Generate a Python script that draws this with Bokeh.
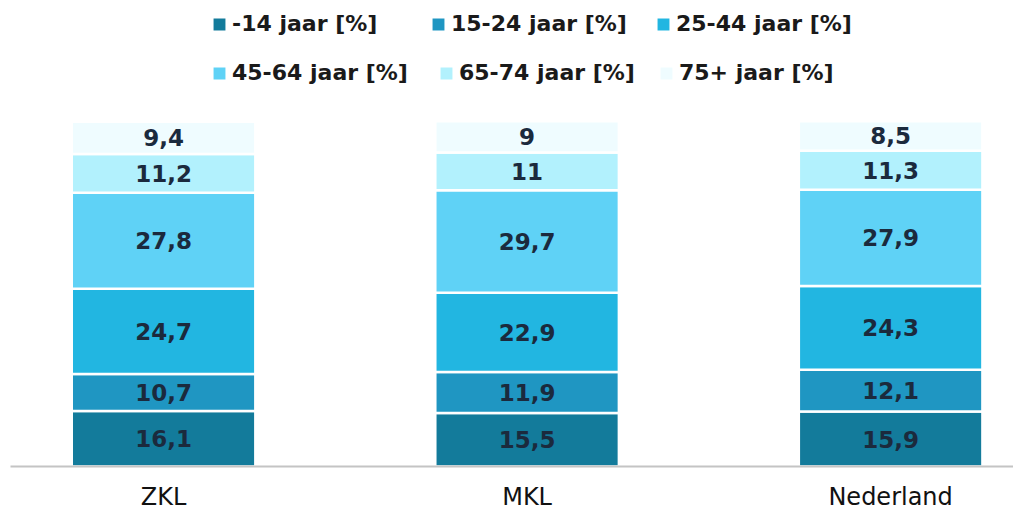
import numpy as np
from bokeh.plotting import figure
from bokeh.models import Range1d, FixedTicker, Legend, LegendItem, ColumnDataSource
from bokeh.core.properties import value
from bokeh.embed import file_html
from bokeh.resources import INLINE

# ---- data ----
regions = ["ZKL", "MKL", "Nederland"]
age_groups = ["-14 jaar [%]", "15-24 jaar [%]", "25-44 jaar [%]",
              "45-64 jaar [%]", "65-74 jaar [%]", "75+ jaar [%]"]
v_0_14 = [16.1, 15.5, 15.9]
v_15_24 = [10.7, 11.9, 12.1]
v_25_44 = [24.7, 22.9, 24.3]
v_45_64 = [27.8, 29.7, 27.9]
v_65_74 = [11.2, 11.0, 11.3]
v_75p = [9.4, 9.0, 8.5]
series = [v_0_14, v_15_24, v_25_44, v_45_64, v_65_74, v_75p]
colors = ["#137b9b", "#1f96c2", "#22b6e1", "#5fd2f6", "#b2f1fd", "#effcff"]

xpos = np.arange(len(regions))
data = {"x": xpos}
keys = []
for i, s in enumerate(series):
    k = f"s{i}"
    keys.append(k)
    data[k] = s
src = ColumnDataSource(data)

p = figure(width=1013, height=514, output_backend="svg", toolbar_location=None,
           x_range=Range1d(-0.421, 2.338), y_range=Range1d(0, 135),
           min_border_left=10, min_border_right=0, min_border_top=0, min_border_bottom=48)
p.outline_line_color = None
p.background_fill_color = "white"
p.border_fill_color = "white"
p.xgrid.visible = False
p.ygrid.visible = False
p.yaxis.visible = False

renderers = p.vbar_stack(keys, x="x", width=0.505, source=src, color=colors,
                         line_color="white", line_width=2.5)

# segment labels
arr = np.array(series)
cum = np.cumsum(arr, axis=0)
mids = cum - arr / 2
lx, ly, lt = [], [], []
for i in range(arr.shape[0]):
    for j in range(arr.shape[1]):
        lx.append(xpos[j])
        ly.append(mids[i, j])
        lt.append(f"{arr[i, j]:g}".replace(".", ","))
p.text(x=lx, y=ly, text=lt, text_align="center", text_baseline="middle",
       text_font=value("DejaVu Sans"), text_font_style="bold",
       text_font_size="23px", text_color="#1b2a3d")

# x axis
xa = p.xaxis[0]
xa.ticker = FixedTicker(ticks=list(xpos))
xa.major_label_overrides = {int(i): r for i, r in zip(xpos, regions)}
xa.major_tick_line_color = None
xa.minor_tick_line_color = None
xa.major_tick_out = 0
xa.major_tick_in = 0
xa.axis_line_color = "#c4c4c4"
xa.axis_line_width = 2
xa.major_label_text_font = "DejaVu Sans"
xa.major_label_text_font_size = "24px"
xa.major_label_text_color = "#111111"
xa.major_label_standoff = 16

# legends: one per item, positioned like the original
positions = [(200, 430), (419, 430), (644, 430), (200, 381), (427, 381), (647, 381)]
for r, lab, pos in zip(renderers, age_groups, positions):
    lg = Legend(items=[LegendItem(label=lab, renderers=[r])], location=pos,
                orientation="horizontal", padding=0, margin=0, spacing=0,
                glyph_width=18, glyph_height=18, label_standoff=4,
                border_line_alpha=0, background_fill_alpha=0,
                label_text_font="DejaVu Sans", label_text_font_style="bold",
                label_text_font_size="22px", label_text_color="#1a1a1a")
    p.add_layout(lg)

open("out.html", "w").write(file_html(p, INLINE))
